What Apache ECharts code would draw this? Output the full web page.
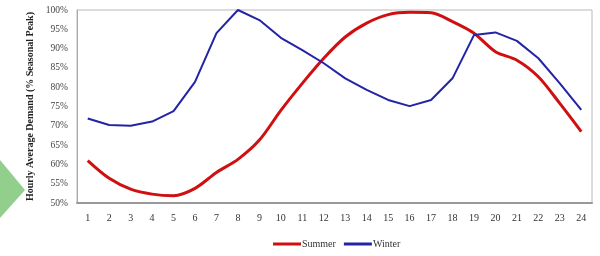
<!DOCTYPE html>
<html lang="en">
<head>
    <meta charset="UTF-8">
    <script src="https://cdn.jsdelivr.net/npm/echarts@6/dist/echarts.min.js"></script>
    <style>
        body, html {
            margin: 0;
            height: 100%;
            background: #fff;
        }

        #main {
            width: 600px;
            height: 256px;
        }
    </style>
    <title>Hourly Average Demand</title>
</head>
<body>

<div id="main"></div>
<script type="text/javascript">
    const myChart = echarts.init(document.getElementById('main'));

    const hours = ['1', '2', '3', '4', '5', '6', '7', '8', '9', '10', '11', '12',
        '13', '14', '15', '16', '17', '18', '19', '20', '21', '22', '23', '24'];
    const summer = [61, 56.4, 53.6, 52.3, 51.9, 53.8, 57.9, 61.3, 66.3, 74, 81, 87.5,
        93, 96.6, 98.8, 99.4, 99.3, 97, 94, 89.2, 87, 82.7, 75.8, 68.5];
    const winter = [71.9, 70.2, 70, 71.1, 73.8, 81.4, 94, 100, 97.4, 92.8, 89.6, 86.2,
        82.3, 79.3, 76.7, 75.1, 76.7, 82.3, 93.5, 94.2, 92, 87.5, 81, 74.1];

    const serif = '"Liberation Serif", "DejaVu Serif", serif';

    const option = {
        animation: false,
        backgroundColor: '#fff',
        grid: {
            left: 77,
            right: 8,
            top: 10,
            bottom: 53,
            show: true,
            borderColor: '#b8b8b8',
            borderWidth: 1
        },
        legend: {
            bottom: 2,
            left: 268,
            icon: 'rect',
            itemWidth: 28,
            itemHeight: 3,
            itemGap: 8,
            textStyle: {fontFamily: serif, fontSize: 10, color: '#333', padding: [0, 0, 0, -4]},
            data: ['Summer', 'Winter']
        },
        xAxis: {
            type: 'category',
            data: hours,
            boundaryGap: true,
            axisLine: {lineStyle: {color: '#999', width: 2}},
            axisTick: {show: false},
            axisLabel: {fontFamily: serif, fontSize: 10, color: '#333', margin: 10}
        },
        yAxis: {
            type: 'value',
            min: 50,
            max: 100,
            interval: 5,
            name: 'Hourly Average Demand (% Seasonal Peak)',
            nameLocation: 'middle',
            nameGap: 42,
            nameTextStyle: {fontFamily: serif, fontSize: 10, fontWeight: 'bold', color: '#222'},
            axisLine: {show: true, lineStyle: {color: '#aaa'}},
            axisTick: {show: false},
            splitLine: {show: false},
            axisLabel: {fontFamily: serif, fontSize: 9.5, color: '#444', margin: 9, formatter: '{value}%'}
        },
        graphic: [{
            type: 'polygon',
            shape: {points: [[0, 160], [25, 190], [0, 218]]},
            style: {fill: '#93cf8c'}
        }],
        series: [
            {
                name: 'Summer',
                type: 'line',
                data: summer,
                smooth: 0.3,
                symbol: 'none',
                lineStyle: {color: '#d01010', width: 3},
                itemStyle: {color: '#d01010'}
            },
            {
                name: 'Winter',
                type: 'line',
                data: winter,
                symbol: 'none',
                lineStyle: {color: '#2323a6', width: 2},
                itemStyle: {color: '#2323a6'}
            }
        ]
    };
    myChart.setOption(option);

</script>
</body>
</html>
